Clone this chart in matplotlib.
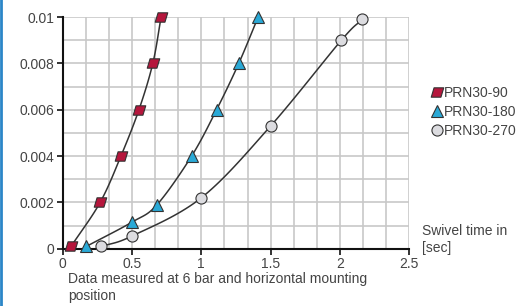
import matplotlib.pyplot as plt
import numpy as np
from matplotlib.path import Path
from matplotlib.lines import Line2D

plt.rcParams['font.family'] = ['Liberation Sans', 'DejaVu Sans']

# data
x90 = [0.06, 0.27, 0.42, 0.55, 0.65, 0.71]
y90 = [0.0001, 0.002, 0.004, 0.006, 0.008, 0.01]
x180 = [0.17, 0.5, 0.68, 0.93, 1.11, 1.27, 1.41]
y180 = [0.0001, 0.00115, 0.0019, 0.004, 0.006, 0.008, 0.01]
x270 = [0.28, 0.5, 1.0, 1.5, 2.01, 2.16]
y270 = [0.0001, 0.00055, 0.0022, 0.0053, 0.009, 0.0099]
labels = ['PRN30-90', 'PRN30-180', 'PRN30-270']


def smooth(xs, ys, n=20):
    # catmull-rom curve through the points, only for drawing the line
    p = np.column_stack([xs, ys]).astype(float)
    p = np.vstack([2 * p[0] - p[1], p, 2 * p[-1] - p[-2]])
    out = []
    t = np.linspace(0, 1, n)[:, None]
    for i in range(1, len(p) - 2):
        p0, p1, p2, p3 = p[i - 1], p[i], p[i + 1], p[i + 2]
        c = 0.5 * ((2 * p1) + (-p0 + p2) * t + (2 * p0 - 5 * p1 + 4 * p2 - p3) * t ** 2
                   + (-p0 + 3 * p1 - 3 * p2 + p3) * t ** 3)
        out.append(c)
    c = np.vstack(out)
    return c[:, 0], c[:, 1]


para = Path([(-1.0, -0.75), (0.55, -0.75), (1.0, 0.75), (-0.55, 0.75), (-1.0, -0.75)],
            [Path.MOVETO, Path.LINETO, Path.LINETO, Path.LINETO, Path.CLOSEPOLY])

fig = plt.figure(figsize=(5.18, 3.06), dpi=100)
ax = fig.add_axes([0.121, 0.187, 0.669, 0.757])

txt = '#444444'
series = [
    (x90, y90, para, '#b5163c', 9),
    (x180, y180, '^', '#2aa9d6', 8),
    (x270, y270, 'o', '#dcdce0', 8),
]
for xs, ys, m, c, ms in series:
    sx, sy = smooth(xs, ys)
    ax.plot(sx, sy, color='#333333', lw=1.1, zorder=3)
    ax.plot(xs, ys, ls='none', marker=m, ms=ms, mfc=c, mec='#333333', mew=0.8, zorder=4,
            clip_on=False)

ax.set_xlim(0, 2.5)
ax.set_ylim(0, 0.01)
ax.set_xticks([0, 0.5, 1, 1.5, 2, 2.5])
ax.set_xticklabels(['0', '0.5', '1', '1.5', '2', '2.5'])
ax.set_yticks([0, 0.002, 0.004, 0.006, 0.008, 0.01])
ax.set_yticklabels(['0', '0.002', '0.004', '0.006', '0.008', '0.01'])
ax.set_xticks(np.arange(0, 2.51, 0.5 / 3), minor=True)
ax.set_yticks(np.arange(0, 0.0101, 0.001), minor=True)
ax.grid(True, which='both', color='#c8c8c8', lw=1.2)
ax.set_axisbelow(True)
ax.tick_params(which='minor', length=0)
ax.tick_params(which='major', length=4, width=1.2, color='#111111', labelsize=10,
               labelcolor=txt, pad=2)
for s in ['top', 'right']:
    ax.spines[s].set_visible(False)
for s in ['left', 'bottom']:
    ax.spines[s].set_linewidth(1.5)
    ax.spines[s].set_color('#111111')

# baseline here is the baseline of the last line
fig.text(68 / 518, 1 - 300 / 306, 'Data measured at 6 bar and horizontal mounting\nposition',
         fontsize=10, color=txt, ha='left', va='baseline', linespacing=1.25)
fig.text(422 / 518, 1 - 252 / 306, 'Swivel time in\n[sec]', fontsize=10, color=txt,
         ha='left', va='baseline', linespacing=1.25)

handles = [Line2D([], [], ls='none', marker=m, ms=ms, mfc=c, mec='#333333', mew=0.8)
           for _, _, m, c, ms in series]
ax.legend(handles, labels, loc='center left', bbox_to_anchor=(426 / 518, 1 - 112 / 306),
          bbox_transform=fig.transFigure, frameon=False, fontsize=10, handlelength=0.6,
          handletextpad=0.2, labelspacing=0.35, borderpad=0, labelcolor=txt)

fig.add_artist(Line2D([0.002, 0.002], [0, 1], color='#2b86c8', lw=2, transform=fig.transFigure))

fig.savefig('out.png', dpi=100)
